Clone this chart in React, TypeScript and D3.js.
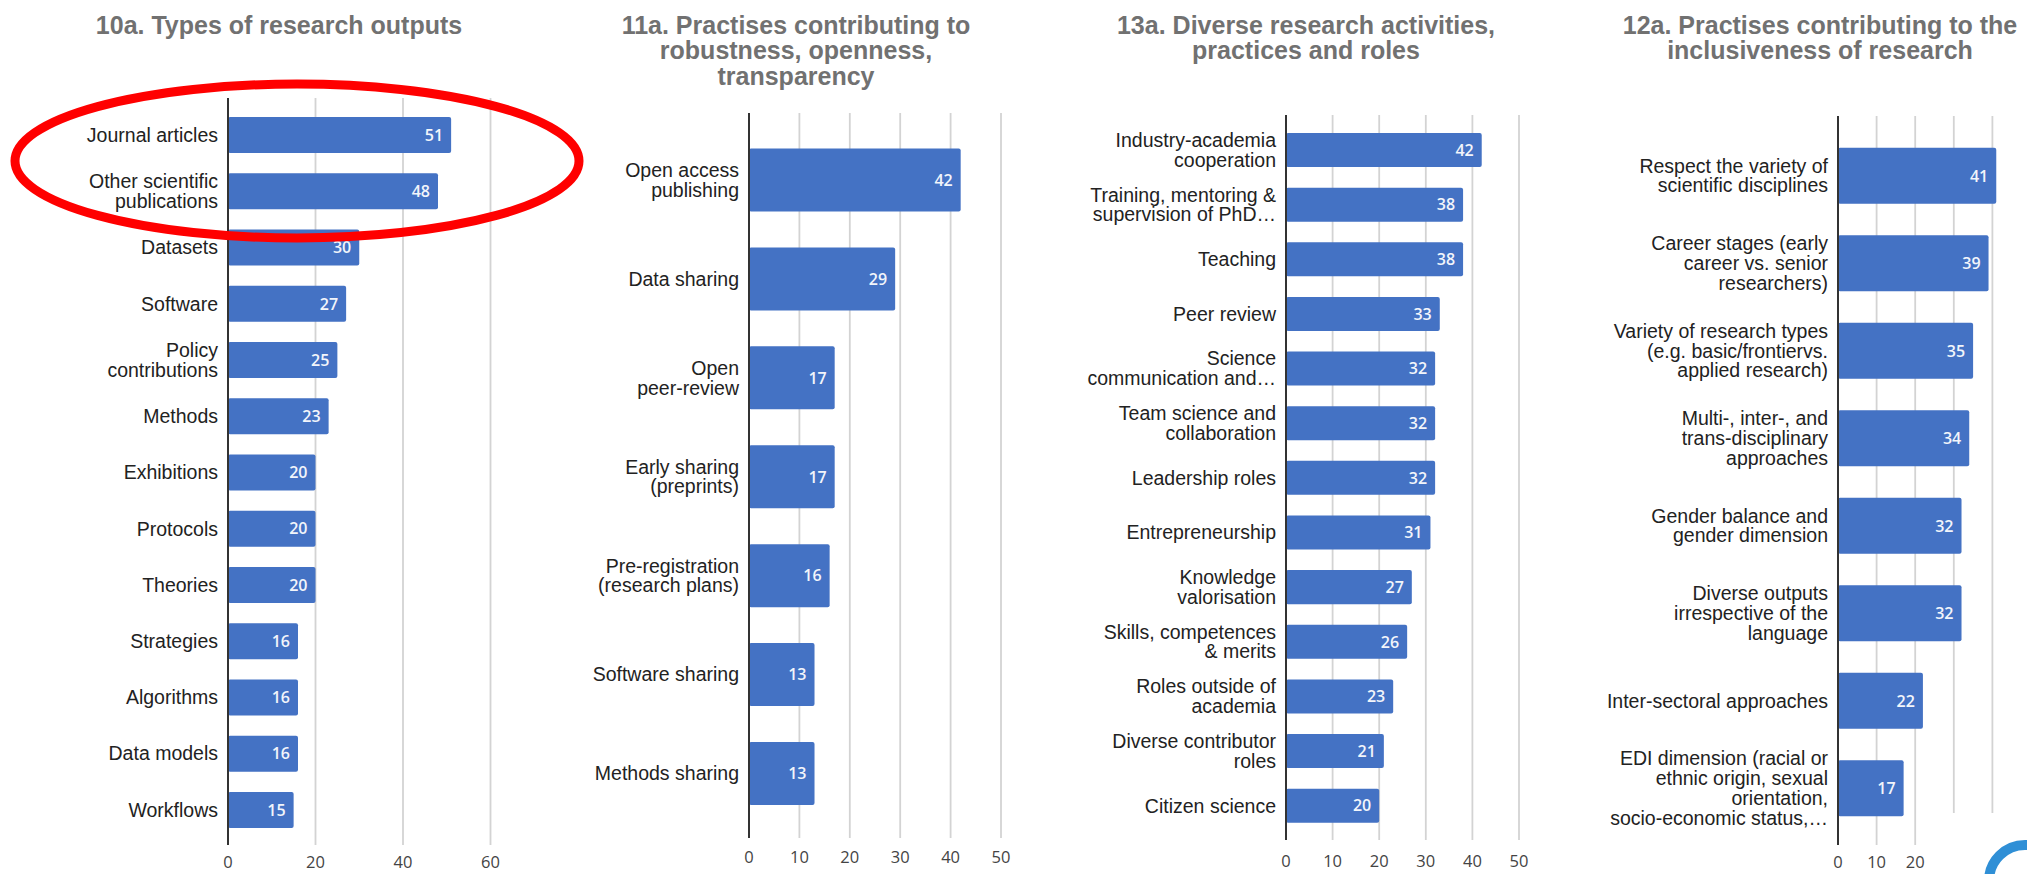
import React from "react";
import * as d3 from "d3";

// ---------- data ----------
const title10a = ["10a. Types of research outputs"];
const cats10a = [
  "Journal articles",
  "Other scientific\npublications",
  "Datasets",
  "Software",
  "Policy\ncontributions",
  "Methods",
  "Exhibitions",
  "Protocols",
  "Theories",
  "Strategies",
  "Algorithms",
  "Data models",
  "Workflows",
];
const vals10a = [51, 48, 30, 27, 25, 23, 20, 20, 20, 16, 16, 16, 15];
const ticks10a = [0, 20, 40, 60];

const title11a = ["11a. Practises contributing to", "robustness, openness,", "transparency"];
const cats11a = [
  "Open access\npublishing",
  "Data sharing",
  "Open\npeer-review",
  "Early sharing\n(preprints)",
  "Pre-registration\n(research plans)",
  "Software sharing",
  "Methods sharing",
];
const vals11a = [42, 29, 17, 17, 16, 13, 13];
const ticks11a = [0, 10, 20, 30, 40, 50];

const title13a = ["13a. Diverse research activities,", "practices and roles"];
const cats13a = [
  "Industry-academia\ncooperation",
  "Training, mentoring &\nsupervision of PhD…",
  "Teaching",
  "Peer review",
  "Science\ncommunication and…",
  "Team science and\ncollaboration",
  "Leadership roles",
  "Entrepreneurship",
  "Knowledge\nvalorisation",
  "Skills, competences\n& merits",
  "Roles outside of\nacademia",
  "Diverse contributor\nroles",
  "Citizen science",
];
const vals13a = [42, 38, 38, 33, 32, 32, 32, 31, 27, 26, 23, 21, 20];
const ticks13a = [0, 10, 20, 30, 40, 50];

const title12a = ["12a. Practises contributing to the", "inclusiveness of research"];
const cats12a = [
  "Respect the variety of\nscientific disciplines",
  "Career stages (early\ncareer vs. senior\nresearchers)",
  "Variety of research types\n(e.g. basic/frontiervs.\napplied research)",
  "Multi-, inter-, and\ntrans-disciplinary\napproaches",
  "Gender balance and\ngender dimension",
  "Diverse outputs\nirrespective of the\nlanguage",
  "Inter-sectoral approaches",
  "EDI dimension (racial or\nethnic origin, sexual\norientation,\nsocio-economic status,…",
];
const vals12a = [41, 39, 35, 34, 32, 32, 22, 17];
const ticks12a = [0, 10, 20, 30, 40];

// ---------- layout ----------
const W = 2027;
const H = 874;
const BAR = "#4472c4";
const LABEL_FONT = "'Liberation Sans', Arial, sans-serif";
const NUM_FONT = "'Open Sans', sans-serif";

const panels = [
  { title: title10a, cats: cats10a, vals: vals10a, ticks: ticks10a, max: 60, x0: 228, x1: 490.5, yTop: 98, yBot: 845, band: [107, 838], pad: 0.36, tickY: 862.5, titleX: 279 },
  { title: title11a, cats: cats11a, vals: vals11a, ticks: ticks11a, max: 50, x0: 749, x1: 1001, yTop: 113, yBot: 838, band: [130.5, 823], pad: 0.363, tickY: 857, titleX: 796 },
  { title: title13a, cats: cats13a, vals: vals13a, ticks: ticks13a, max: 50, x0: 1286, x1: 1519, yTop: 115, yBot: 840, band: [122.7, 833], pad: 0.377, tickY: 861, titleX: 1306 },
  { title: title12a, cats: cats12a, vals: vals12a, ticks: ticks12a, max: 50, x0: 1838, x1: 2031, yTop: 116, yBot: 845, band: [132, 832], pad: 0.36, tickY: 862.5, titleX: 1820 },
];

function Panel({ p }: { p: (typeof panels)[number] }) {
  const x = d3.scaleLinear().domain([0, p.max]).range([p.x0, p.x1]);
  const y = d3
    .scaleBand<string>()
    .domain(p.cats)
    .range(p.band as [number, number])
    .paddingInner(p.pad)
    .paddingOuter(p.pad / 2);
  const lh = 19.8;
  return (
    <g>
      {p.title.map((t, i) => (
        <text
          key={"t" + i}
          x={p.titleX}
          y={33.5 + i * 25.5}
          textAnchor="middle"
          fontFamily={LABEL_FONT}
          fontWeight="bold"
          fontSize={25}
          fill="#717171"
        >
          {t}
        </text>
      ))}
      {p.ticks
        .filter((t) => t > 0)
        .map((t) => (
          <line key={"g" + t} x1={x(t)} x2={x(t)} y1={p.yTop} y2={p.yBot} stroke="#d3d3d3" strokeWidth={1.8} />
        ))}
      {p.ticks.map((t) => (
        <text
          key={"tl" + t}
          x={x(t)}
          y={p.tickY}
          dy="0.35em"
          textAnchor="middle"
          fontFamily={NUM_FONT}
          fontSize={16.5}
          fill="#444"
        >
          {t}
        </text>
      ))}
      {p.cats.map((c, i) => {
        const yc = (y(c) as number) + y.bandwidth() / 2;
        const lines = c.split("\n");
        const v = p.vals[i];
        return (
          <g key={"b" + i}>
            <rect x={x(0)} y={y(c)} width={x(v) - x(0)} height={y.bandwidth()} fill={BAR} rx={2} />
            <text
              x={x(v) - 8}
              y={yc}
              dy="0.36em"
              textAnchor="end"
              fontFamily={NUM_FONT}
              fontWeight={600}
              fontSize={16}
              fill="#f2f5fb"
            >
              {v}
            </text>
            {lines.map((l, j) => (
              <text
                key={j}
                x={p.x0 - 10}
                y={yc + (j - (lines.length - 1) / 2) * lh}
                dy="0.35em"
                textAnchor="end"
                fontFamily={LABEL_FONT}
                fontSize={19.5}
                fill="#222"
              >
                {l}
              </text>
            ))}
          </g>
        );
      })}
      <line x1={p.x0} x2={p.x0} y1={p.yTop} y2={p.yBot} stroke="#333" strokeWidth={2} />
    </g>
  );
}

export default function App() {
  return (
    <svg
      width={W}
      height={H}
      viewBox={`0 0 ${W} ${H}`}
      style={{ position: "absolute", left: 0, top: 0, background: "#fff" }}
    >
      <rect x={0} y={0} width={W} height={H} fill="#fff" />
      {panels.map((p, i) => (
        <Panel key={i} p={p} />
      ))}
      {/* highlight ellipse */}
      <ellipse cx={297} cy={161} rx={282} ry={77} fill="none" stroke="#ff0000" strokeWidth={9} />
      {/* logo overlay at bottom right */}
      <rect x={1940} y={813} width={W - 1940} height={H - 813} fill="#fff" />
      <circle cx={2025} cy={881} r={36} fill="none" stroke="#2f8fd6" strokeWidth={10} />
    </svg>
  );
}
